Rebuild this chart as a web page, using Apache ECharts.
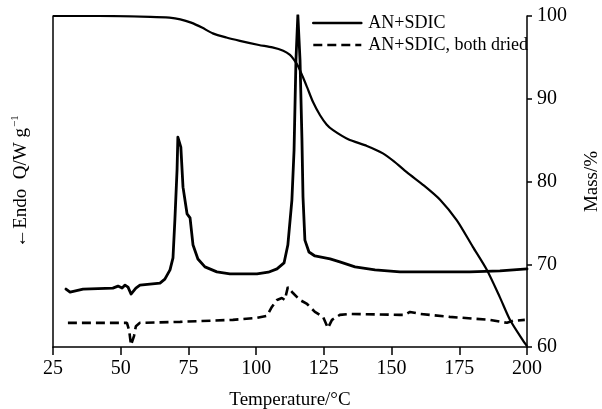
<!DOCTYPE html>
<html>
<head>
<meta charset="utf-8">
<script src="https://cdn.jsdelivr.net/npm/echarts@6/dist/echarts.min.js"></script>
<style>
  html, body { margin: 0; padding: 0; background: #fff; }
  #chart { width: 602px; height: 409px; }
</style>
</head>
<body>
<div id="chart"></div>
<script>
// Temperature axis ticks (°C) and mass axis ticks (%)
const tempTicks = [25, 50, 75, 100, 125, 150, 175, 200];
const massTicks = [60, 70, 80, 90, 100];

// Mass loss curve of AN+SDIC: [temperature °C, mass %]
const massCurve = [
  [25, 100], [42, 100], [61, 99.9], [68, 99.8], [72, 99.6], [76, 99.2],
  [80, 98.6], [84, 97.9], [89, 97.4], [94, 97.0], [101, 96.5], [106, 96.2],
  [110, 95.8], [112.5, 95.3], [114, 94.7], [115.4, 94.0], [117.3, 92.6],
  [118.8, 91.4], [121, 89.6], [123.6, 88.0], [126, 86.9], [128.4, 86.2],
  [134, 85.1], [140.9, 84.3], [146.8, 83.4], [151, 82.4], [155.7, 81.1],
  [162, 79.5], [167.9, 77.8], [174.1, 75.3], [180, 72.1], [185.2, 69.3],
  [190, 66.0], [193.7, 63.3], [198.5, 60.8], [200, 60.1]
];

// Heat flow of AN+SDIC (relative units, endo down): [temperature °C, signal]
const dscWet = [
  [29.8, 17.5], [31.3, 16.6], [36.1, 17.5], [47.1, 17.8], [49.0, 18.4],
  [50.5, 17.8], [51.6, 18.7], [52.7, 18.1], [53.8, 16.0], [54.5, 15.7],
  [55.6, 17.8], [57.1, 18.7], [64.5, 19.3], [66.3, 20.5], [68.2, 23.3],
  [69.3, 26.9], [70.0, 38.4], [70.8, 53.5], [71.1, 63.4], [72.2, 60.4],
  [73.0, 48.3], [74.5, 40.2], [75.6, 39.0], [76.7, 30.8], [78.5, 26.6],
  [81.1, 24.2], [85.5, 22.7], [90.3, 22.1], [100.3, 22.1], [104.5, 22.6],
  [107.7, 23.6], [110.3, 25.4], [111.7, 30.8], [113.2, 44.4], [114.0, 59.5],
  [114.7, 86.7], [115.4, 100.3], [116.2, 86.7], [116.9, 63.1], [117.3, 45.3],
  [118.0, 32.3], [119.5, 28.7], [121.7, 27.5], [127.3, 26.6], [130.9, 25.7],
  [136.5, 24.2], [143.9, 23.3], [153.1, 22.7], [164.2, 22.7], [178.9, 22.7],
  [190, 23.0], [200, 23.6]
];

// Heat flow of AN+SDIC with both components dried
const dscDried = [
  [30.5, 7.3], [42.3, 7.3], [52.3, 7.3], [53.1, 5.1], [53.8, 0.6], [54.2, 0],
  [54.9, 3.3], [55.6, 6.3], [57.1, 7.3], [71.9, 7.6], [91.4, 8.2],
  [100.3, 8.8], [104.0, 9.4], [105.8, 12.1], [107.7, 14.2], [109.5, 14.8],
  [110.6, 14.2], [111.7, 18.1], [113.6, 16.3], [116.2, 14.2], [118.8, 13.0],
  [121.7, 10.6], [124.7, 9.1], [126.5, 5.7], [128.0, 8.2], [130.9, 9.7],
  [134.6, 10.0], [153.1, 9.7], [154.9, 9.7], [156.8, 10.6], [160.5, 10.0],
  [171.5, 9.1], [186.3, 8.2], [192.6, 7.3], [194.8, 7.9], [199.2, 8.2]
];

const serif = '"Liberation Serif", "Times New Roman", serif';
const ink = '#000';

const chart = echarts.init(document.getElementById('chart'), null, { renderer: 'canvas' });

chart.setOption({
  backgroundColor: '#fff',
  animation: false,
  textStyle: { fontFamily: serif, color: ink },
  grid: { left: 53, right: 75, top: 16, bottom: 62, containLabel: false, outerBoundsMode: 'none' },
  legend: {
    data: ['AN+SDIC', 'AN+SDIC, both dried'],
    orient: 'vertical',
    left: 307,
    top: 9,
    itemWidth: 48,
    itemHeight: 16,
    itemGap: 4,
    itemStyle: { opacity: 0 },
    lineStyle: { width: 2.6 },
    textStyle: { fontFamily: serif, fontSize: 18, color: ink, padding: [0, 0, 0, 2] }
  },
  xAxis: {
    type: 'value',
    min: tempTicks[0],
    max: tempTicks[tempTicks.length - 1],
    interval: 25,
    name: 'Temperature/°C',
    nameLocation: 'middle',
    nameGap: 44,
    nameTextStyle: { fontFamily: serif, fontSize: 19, color: ink },
    axisLine: { show: true, lineStyle: { color: ink, width: 1.5 } },
    axisTick: { show: true, inside: false, length: 8, lineStyle: { color: ink, width: 1.5 } },
    axisLabel: { fontFamily: serif, fontSize: 20, color: ink, margin: 12 },
    splitLine: { show: false }
  },
  yAxis: [
    {
      type: 'value',
      position: 'left',
      min: 0,
      max: 100,
      name: '{t|←Endo  Q/W g}{s|−1}',
      nameLocation: 'middle',
      nameRotate: 90,
      nameGap: 20,
      nameTextStyle: {
        fontFamily: serif, fontSize: 19, color: ink,
        rich: {
          t: { fontFamily: serif, fontSize: 19, color: ink },
          s: { fontFamily: serif, fontSize: 11, color: ink, padding: [0, 0, 12, 1] }
        }
      },
      axisLine: { show: true, onZero: false, lineStyle: { color: ink, width: 1.5 } },
      axisTick: { show: false },
      axisLabel: { show: false },
      splitLine: { show: false }
    },
    {
      type: 'value',
      position: 'right',
      min: massTicks[0],
      max: massTicks[massTicks.length - 1],
      interval: 10,
      name: 'Mass/%',
      nameLocation: 'middle',
      nameRotate: 90,
      nameGap: 56,
      nameTextStyle: { fontFamily: serif, fontSize: 19, color: ink },
      axisLine: { show: true, onZero: false, lineStyle: { color: ink, width: 1.5 } },
      axisTick: { show: true, inside: false, length: 5, lineStyle: { color: ink, width: 1.5 } },
      axisLabel: { fontFamily: serif, fontSize: 20, color: ink, margin: 10 },
      splitLine: { show: false }
    }
  ],
  series: [
    {
      name: 'AN+SDIC mass',
      type: 'line',
      yAxisIndex: 1,
      data: massCurve,
      symbol: 'none',
      smooth: 0.25,
      lineStyle: { color: ink, width: 2.2 },
      z: 3
    },
    {
      name: 'AN+SDIC',
      type: 'line',
      yAxisIndex: 0,
      data: dscWet,
      symbol: 'none',
      smooth: false,
      lineStyle: { color: ink, width: 2.8, join: 'round', cap: 'round' },
      itemStyle: { color: ink },
      z: 4
    },
    {
      name: 'AN+SDIC, both dried',
      type: 'line',
      yAxisIndex: 0,
      data: dscDried,
      symbol: 'none',
      smooth: false,
      lineStyle: { color: ink, width: 2.6, type: [9, 5] },
      itemStyle: { color: ink },
      z: 4
    }
  ]
});
</script>
</body>
</html>
